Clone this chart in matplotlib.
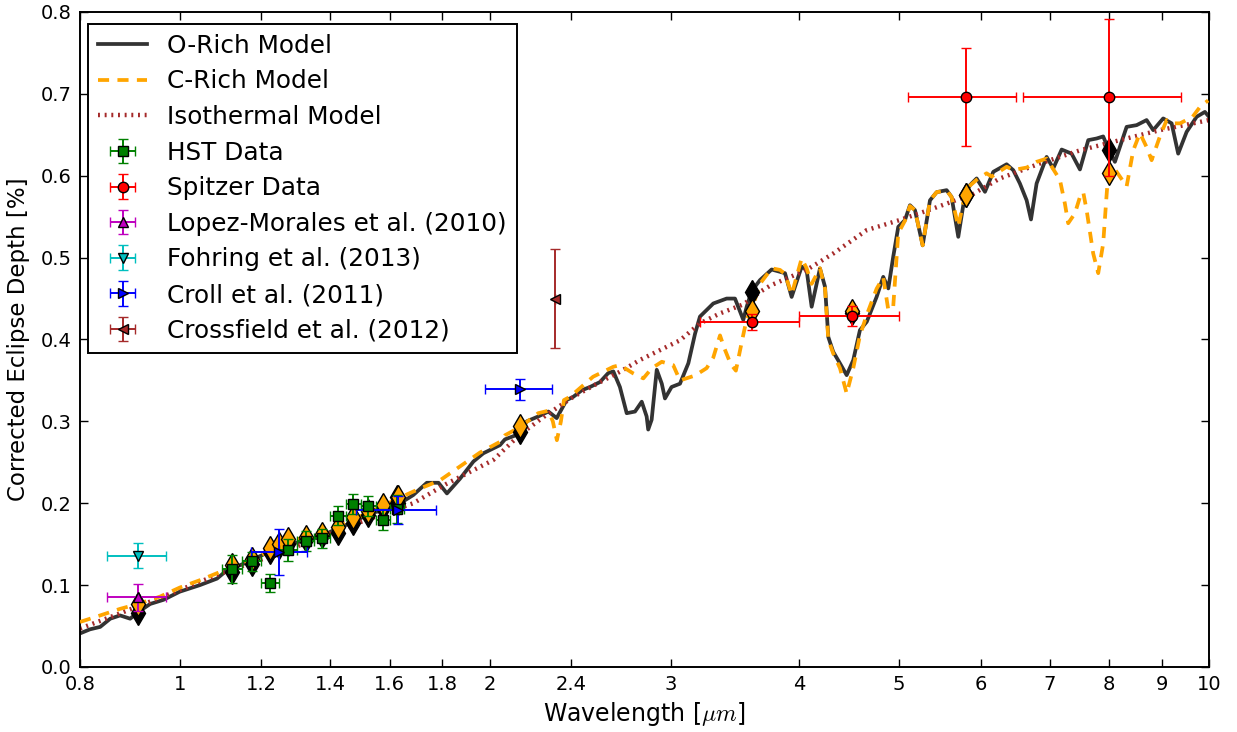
import matplotlib
matplotlib.use('Agg')
import matplotlib.pyplot as plt
from matplotlib.ticker import NullLocator

plt.rcParams['font.family'] = ['DejaVu Sans']
plt.rcParams['mathtext.fontset'] = 'cm'
plt.rcParams['lines.scale_dashes'] = False
plt.rcParams['axes.linewidth'] = 1.4

# ---------------- model spectra ----------------
orich_wl = [0.800, 0.818, 0.837, 0.856, 0.875, 0.895, 0.911, 0.936, 0.964, 1.000,
            1.046, 1.087, 1.111, 1.153, 1.197, 1.251, 1.309, 1.369, 1.421, 1.475,
            1.531, 1.589, 1.637, 1.686, 1.738, 1.784, 1.818, 1.872, 1.929, 1.972,
            2.047, 2.070, 2.141, 2.173, 2.230, 2.281, 2.324, 2.376, 2.412, 2.458,
            2.504, 2.560, 2.608, 2.638, 2.677, 2.718, 2.769, 2.811, 2.842, 2.852,
            2.874, 2.907, 2.940, 2.961, 3.005, 3.062, 3.120, 3.167, 3.202, 3.299,
            3.399, 3.463, 3.528, 3.555, 3.594, 3.662, 3.759, 3.830, 3.873, 3.931,
            4.020, 4.065, 4.111, 4.188, 4.236, 4.267, 4.314, 4.380, 4.446, 4.512,
            4.580, 4.650, 4.754, 4.825, 4.880, 4.934, 4.990, 5.065, 5.122, 5.180,
            5.270, 5.357, 5.438, 5.560, 5.622, 5.707, 5.793, 5.858, 5.946, 6.058,
            6.172, 6.359, 6.454, 6.550, 6.650, 6.715, 6.800, 6.954, 7.058, 7.192,
            7.354, 7.492, 7.633, 7.777, 7.892, 7.982, 8.102, 8.317, 8.505, 8.697,
            8.827, 9.026, 9.198, 9.334, 9.512, 9.727, 9.909, 10.0]
orich_depth = [0.041, 0.046, 0.049, 0.059, 0.063, 0.059, 0.067, 0.077, 0.082, 0.092,
               0.100, 0.108, 0.118, 0.126, 0.1355, 0.147, 0.153, 0.159, 0.169, 0.177,
               0.188, 0.192, 0.200, 0.210, 0.225, 0.225, 0.212, 0.230, 0.251, 0.261,
               0.271, 0.278, 0.285, 0.300, 0.306, 0.312, 0.304, 0.326, 0.330, 0.338,
               0.342, 0.348, 0.359, 0.361, 0.342, 0.310, 0.312, 0.324, 0.306, 0.290,
               0.302, 0.363, 0.346, 0.328, 0.342, 0.346, 0.371, 0.407, 0.428, 0.444,
               0.450, 0.450, 0.424, 0.440, 0.459, 0.4725, 0.4855, 0.4827, 0.481, 0.452,
               0.489, 0.4847, 0.440, 0.4868, 0.4643, 0.403, 0.385, 0.3708, 0.3565, 0.3748,
               0.4115, 0.4216, 0.452, 0.4765, 0.4624, 0.501, 0.5376, 0.5458, 0.564, 0.558,
               0.515, 0.570, 0.580, 0.5824, 0.5742, 0.5254, 0.577, 0.5885, 0.5967, 0.5804,
               0.6048, 0.614, 0.6068, 0.5906, 0.570, 0.5466, 0.5906, 0.623, 0.609, 0.632,
               0.627, 0.6077, 0.6435, 0.6455, 0.648, 0.6333, 0.617, 0.6597, 0.6618, 0.668,
               0.6557, 0.670, 0.664, 0.627, 0.6536, 0.672, 0.678, 0.672]

crich_wl = [0.800, 0.837, 0.875, 0.911, 0.957, 1.000, 1.046, 1.094, 1.144, 1.197,
            1.251, 1.309, 1.369, 1.431, 1.497, 1.565, 1.637, 1.712, 1.790, 1.872,
            1.958, 2.047, 2.070, 2.141, 2.230, 2.281, 2.304, 2.325, 2.346, 2.362,
            2.394, 2.521, 2.638, 2.677, 2.758, 2.821, 2.874, 2.940, 3.016, 3.062,
            3.167, 3.250, 3.299, 3.349, 3.380, 3.430, 3.470, 3.520, 3.555, 3.594,
            3.662, 3.759, 3.830, 3.873, 3.931, 4.020, 4.065, 4.111, 4.188, 4.236,
            4.267, 4.314, 4.380, 4.446, 4.512, 4.580, 4.650, 4.754, 4.825, 4.880,
            4.934, 4.990, 5.065, 5.122, 5.180, 5.270, 5.357, 5.438, 5.560, 5.622,
            5.707, 5.793, 5.858, 5.946, 6.080, 6.149, 6.359, 6.454, 6.651, 6.800,
            6.954, 7.164, 7.244, 7.298, 7.408, 7.492, 7.547, 7.605, 7.718, 7.805,
            7.892, 7.950, 7.982, 8.070, 8.193, 8.317, 8.441, 8.568, 8.697, 8.795,
            8.960, 9.096, 9.231, 9.372, 9.640, 9.800, 9.982]
crich_depth = [0.055, 0.063, 0.071, 0.077, 0.086, 0.097, 0.106, 0.116, 0.126, 0.136,
               0.149, 0.157, 0.164, 0.174, 0.184, 0.195, 0.207, 0.218, 0.228, 0.245,
               0.262, 0.275, 0.283, 0.293, 0.310, 0.313, 0.300, 0.277, 0.300, 0.326,
               0.330, 0.3545, 0.3667, 0.3687, 0.3586, 0.3525, 0.3647, 0.3728, 0.3687, 0.350,
               0.356, 0.365, 0.378, 0.405, 0.390, 0.370, 0.362, 0.400, 0.425, 0.436,
               0.468, 0.487, 0.485, 0.480, 0.455, 0.499, 0.487, 0.468, 0.487, 0.462,
               0.400, 0.383, 0.365, 0.334, 0.365, 0.405, 0.430, 0.462, 0.476, 0.436,
               0.440, 0.530, 0.545, 0.563, 0.558, 0.515, 0.570, 0.580, 0.582, 0.574,
               0.538, 0.577, 0.588, 0.595, 0.603, 0.599, 0.611, 0.607, 0.610, 0.617,
               0.621, 0.595, 0.566, 0.542, 0.554, 0.574, 0.580, 0.558, 0.505, 0.481,
               0.517, 0.574, 0.603, 0.611, 0.599, 0.587, 0.631, 0.652, 0.635, 0.619,
               0.648, 0.668, 0.664, 0.664, 0.672, 0.684, 0.692]

iso_wl = [0.800, 0.875, 1.000, 1.094, 1.251, 1.452, 1.686, 1.818, 2.016, 2.141,
          2.272, 2.412, 2.543, 2.677, 2.800, 2.928, 3.062, 3.202, 3.349, 3.530,
          3.661, 3.749, 4.065, 4.314, 4.650, 5.009, 5.396, 5.903, 6.264, 6.851,
          7.492, 8.193, 8.960, 10.0]
iso_depth = [0.047, 0.0655, 0.094, 0.114, 0.139, 0.171, 0.200, 0.224, 0.2527, 0.284,
             0.308, 0.330, 0.346, 0.3606, 0.375, 0.387, 0.399, 0.4197, 0.4319, 0.443,
             0.458, 0.466, 0.485, 0.505, 0.5336, 0.546, 0.560, 0.578, 0.5967, 0.615,
             0.631, 0.6435, 0.6557, 0.668]

# ---------------- band-integrated model points ----------------
band_wl = [0.91, 1.125, 1.175, 1.225, 1.25, 1.275, 1.325, 1.375, 1.425, 1.475,
           1.525, 1.575, 1.625, 1.63, 2.14, 3.6, 4.5, 5.8, 8.0]
orich_band = [0.066, 0.116, 0.126, 0.140, 0.146, 0.150, 0.155, 0.160, 0.164, 0.176,
              0.186, 0.194, 0.200, 0.200, 0.287, 0.458, 0.432, 0.577, 0.632]
crich_band = [0.077, 0.125, 0.132, 0.145, 0.150, 0.156, 0.159, 0.162, 0.171, 0.1835,
              0.190, 0.198, 0.208, 0.208, 0.294, 0.435, 0.435, 0.577, 0.603]

# ---------------- observations ----------------
hst_wl = [1.125, 1.175, 1.225, 1.275, 1.325, 1.375, 1.425, 1.475, 1.525, 1.575, 1.625]
hst_depth = [0.120, 0.129, 0.102, 0.143, 0.154, 0.157, 0.185, 0.199, 0.197, 0.180, 0.193]
hst_yerr = [0.017, 0.012, 0.011, 0.013, 0.012, 0.012, 0.012, 0.012, 0.012, 0.013, 0.017]
hst_xerr = [0.025] * 11

spitzer_wl = [3.6, 4.5, 5.8, 8.0]
spitzer_depth = [0.421, 0.429, 0.696, 0.696]
spitzer_yerr = [0.010, 0.012, 0.060, 0.096]
spitzer_xerr = [0.4, 0.5, 0.7, 1.4]

lopez_wl = [0.91]
lopez_depth = [0.085]
lopez_yerr = [0.016]
lopez_xerr = [0.06]

fohring_wl = [0.91]
fohring_depth = [0.136]
fohring_yerr = [0.015]
fohring_xerr = [0.06]

croll_wl = [1.25, 1.63, 2.14]
croll_depth = [0.140, 0.192, 0.339]
croll_yerr = [0.028, 0.017, 0.013]
croll_xerr = [0.078, 0.145, 0.16]

crossfield_wl = [2.315]
crossfield_depth = [0.450]
crossfield_yerr = [0.060]
crossfield_xerr = [0.0]

xticks = [0.8, 1, 1.2, 1.4, 1.6, 1.8, 2, 2.4, 3, 4, 5, 6, 7, 8, 9, 10]
xtick_labels = ['0.8', '1', '1.2', '1.4', '1.6', '1.8', '2', '2.4', '3', '4', '5',
                '6', '7', '8', '9', '10']

# ---------------- figure ----------------
fig = plt.figure(figsize=(12.37, 7.32), dpi=100)
ax = fig.add_axes([80 / 1237, 1 - 667 / 732, 1129 / 1237, 655 / 732])
ax.set_xscale('log')

h_o, = ax.plot(orich_wl, orich_depth, color='#333333', lw=2.7, zorder=2,
               label='O-Rich Model', solid_joinstyle='round')
h_i, = ax.plot(iso_wl, iso_depth, color='#a52a2a', lw=3.2, dashes=(1.4, 3.4),
               zorder=2.5, label='Isothermal Model')
h_c, = ax.plot(crich_wl, crich_depth, color='orange', lw=2.7, dashes=(8, 6),
               zorder=3, label='C-Rich Model')

ax.plot(band_wl, orich_band, 'd', color='k', mec='k', ms=12, mew=1, zorder=4)
ax.plot(band_wl, crich_band, 'd', color='orange', mfc='orange', mec='k', ms=12,
        mew=1, zorder=5)

eb_kw = dict(capsize=3.6, elinewidth=1.4, capthick=1.4, mec='k', mew=1, ms=7.5,
             zorder=6, linestyle='none')
e1 = ax.errorbar(hst_wl, hst_depth, yerr=hst_yerr, xerr=hst_xerr, fmt='s',
                 color='g', label='HST Data', **eb_kw)
e2 = ax.errorbar(spitzer_wl, spitzer_depth, yerr=spitzer_yerr, xerr=spitzer_xerr,
                 fmt='o', color='r', label='Spitzer Data', **eb_kw)
e3 = ax.errorbar(lopez_wl, lopez_depth, yerr=lopez_yerr, xerr=lopez_xerr, fmt='^',
                 color='m', label='Lopez-Morales et al. (2010)', **eb_kw)
e4 = ax.errorbar(fohring_wl, fohring_depth, yerr=fohring_yerr, xerr=fohring_xerr,
                 fmt='v', color='c', label='Fohring et al. (2013)', **eb_kw)
e5 = ax.errorbar(croll_wl, croll_depth, yerr=croll_yerr, xerr=croll_xerr, fmt='>',
                 color='b', label='Croll et al. (2011)', **eb_kw)
e6 = ax.errorbar(crossfield_wl, crossfield_depth, yerr=crossfield_yerr,
                 xerr=crossfield_xerr, fmt='<', color='#a52a2a',
                 label='Crossfield et al. (2012)', **eb_kw)

ax.set_xlim(0.8, 10)
ax.set_ylim(0.0, 0.8)
ax.set_xticks(xticks)
ax.set_xticklabels(xtick_labels)
ax.xaxis.set_minor_locator(NullLocator())
ax.tick_params(which='both', direction='in', top=True, right=True, length=6,
               width=1, labelsize=14, pad=6)

ax.set_xlabel('Wavelength [$\\mu m$]', fontsize=17, labelpad=4)
ax.set_ylabel('Corrected Eclipse Depth [%]', fontsize=16.5, labelpad=8)

handles = [h_o, h_c, h_i, e1, e2, e3, e4, e5, e6]
labels = [h.get_label() for h in handles]
leg = ax.legend(handles, labels, loc='upper left', bbox_to_anchor=(0.007, 0.982),
                borderaxespad=0, fontsize=17.8, frameon=True, fancybox=False,
                edgecolor='k', framealpha=1, labelspacing=0.47, numpoints=1,
                handlelength=2.0, borderpad=0.4, handletextpad=0.8)
leg.get_frame().set_linewidth(1.4)
leg.set_zorder(10)

fig.savefig('out.png', dpi=100)
